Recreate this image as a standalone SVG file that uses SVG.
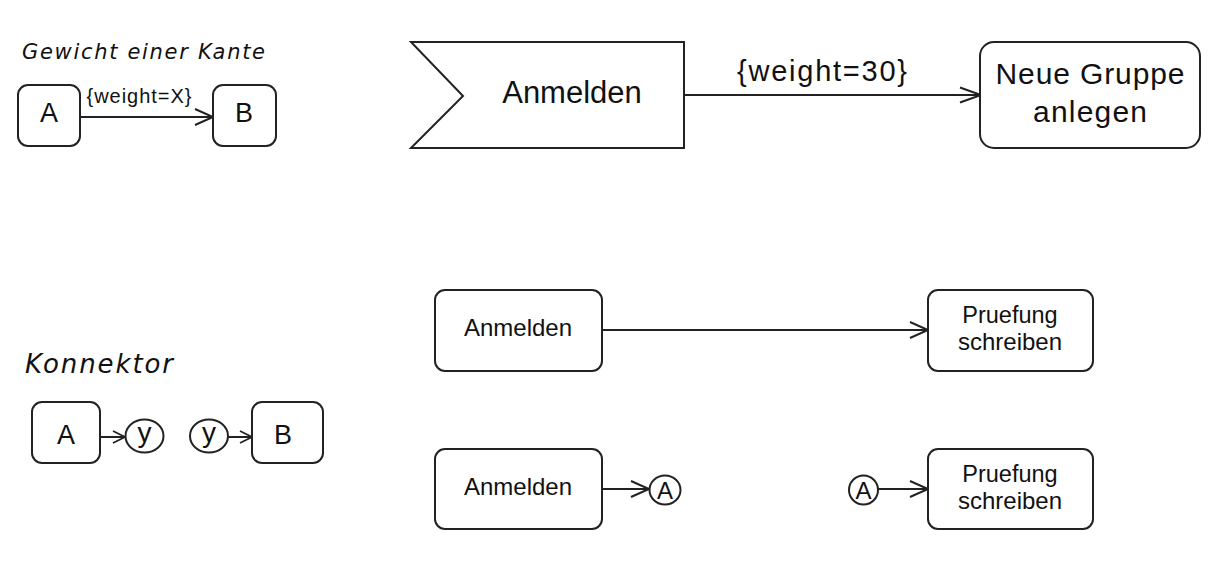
<svg xmlns="http://www.w3.org/2000/svg" width="1216" height="569" viewBox="0 0 1216 569">
<style>
.box{fill:#fff;stroke:#222;stroke-width:2}
.ln{fill:none;stroke:#222;stroke-width:2}
.t{font-family:"Liberation Sans",Arial,sans-serif;fill:#111;text-anchor:middle}
.title{font-family:"DejaVu Sans",sans-serif;font-style:italic;fill:#111}
</style>
<defs>
<marker id="arr" markerUnits="userSpaceOnUse" markerWidth="24" markerHeight="20" refX="18" refY="8" orient="auto" overflow="visible">
<path d="M0,0 L18,8 L0,16" fill="none" stroke="#222" stroke-width="2"/>
</marker>
<marker id="arrL" markerUnits="userSpaceOnUse" markerWidth="24" markerHeight="20" refX="21" refY="7.5" orient="auto" overflow="visible">
<path d="M0,0 L21,7.5 L0,15" fill="none" stroke="#222" stroke-width="2"/>
</marker>
<marker id="arrS" markerUnits="userSpaceOnUse" markerWidth="16" markerHeight="16" refX="12" refY="6" orient="auto" overflow="visible">
<path d="M0,0 L12,6 L0,12" fill="none" stroke="#222" stroke-width="1.8"/>
</marker>
</defs>
<rect width="1216" height="569" fill="#fff"/>

<text class="title" x="22" y="59" font-size="21" textLength="243">Gewicht einer Kante</text>
<text class="title" x="25" y="373" font-size="26" textLength="148">Konnektor</text>

<g id="connectors">
<line class="ln" x1="80" y1="117" x2="213" y2="117" marker-end="url(#arr)"/>
<line class="ln" x1="684" y1="95" x2="981" y2="95" marker-end="url(#arrL)"/>
<line class="ln" x1="100" y1="437" x2="125" y2="437" marker-end="url(#arrS)"/>
<line class="ln" x1="228" y1="437" x2="252" y2="437" marker-end="url(#arrS)"/>
<line class="ln" x1="602" y1="330" x2="928" y2="330" marker-end="url(#arr)"/>
<line class="ln" x1="602" y1="489" x2="649" y2="489" marker-end="url(#arr)"/>
<line class="ln" x1="878" y1="489" x2="928" y2="489" marker-end="url(#arr)"/>
<text class="t" x="139" y="103" font-size="20" textLength="105">{weight=X}</text>
<text class="t" x="822" y="81" font-size="29" textLength="170">{weight=30}</text>
</g>

<g id="nA1"><rect class="box" x="18" y="85" width="62" height="61" rx="10"/><text class="t" x="49" y="122" font-size="27">A</text></g>
<g id="nB1"><rect class="box" x="213" y="85" width="63" height="61" rx="10"/><text class="t" x="244" y="122" font-size="27">B</text></g>

<g id="nFlag"><polygon class="box" points="411,42 684,42 684,148 411,148 463,96"/><text class="t" x="572" y="103" font-size="31">Anmelden</text></g>
<g id="nNeue"><rect class="box" x="980" y="42" width="220" height="106" rx="14"/><text class="t" x="1090" y="84" font-size="30" textLength="189">Neue Gruppe</text><text class="t" x="1090" y="122" font-size="30" textLength="114">anlegen</text></g>

<g id="nA2"><rect class="box" x="32" y="402" width="68" height="61" rx="10"/><text class="t" x="66" y="444" font-size="27">A</text></g>
<g id="nY1"><ellipse class="box" cx="144.5" cy="436" rx="19" ry="16.5"/><text class="t" x="144.5" y="442" font-size="28">y</text></g>
<g id="nY2"><ellipse class="box" cx="209" cy="436" rx="19" ry="16.5"/><text class="t" x="209" y="442" font-size="28">y</text></g>
<g id="nB2"><rect class="box" x="252" y="402" width="71" height="61" rx="10"/><text class="t" x="283" y="444" font-size="27">B</text></g>

<g id="nAnm1"><rect class="box" x="435" y="290" width="167" height="81" rx="10"/><text class="t" x="518" y="336" font-size="24">Anmelden</text></g>
<g id="nPr1"><rect class="box" x="928" y="290" width="165" height="81" rx="10"/><text class="t" x="1010" y="323" font-size="23.5">Pruefung</text><text class="t" x="1010" y="350" font-size="24">schreiben</text></g>

<g id="nAnm2"><rect class="box" x="435" y="449" width="167" height="80" rx="10"/><text class="t" x="518" y="495" font-size="24">Anmelden</text></g>
<g id="nC1"><ellipse class="box" cx="665" cy="490" rx="15.5" ry="14.5" stroke-width="1.8"/><text class="t" x="665" y="499" font-size="24">A</text></g>
<g id="nC2"><ellipse class="box" cx="863.5" cy="490" rx="14.5" ry="14.5" stroke-width="1.8"/><text class="t" x="863.5" y="499" font-size="24">A</text></g>
<g id="nPr2"><rect class="box" x="928" y="449" width="165" height="80" rx="10"/><text class="t" x="1010" y="482" font-size="23.5">Pruefung</text><text class="t" x="1010" y="509" font-size="24">schreiben</text></g>
</svg>
